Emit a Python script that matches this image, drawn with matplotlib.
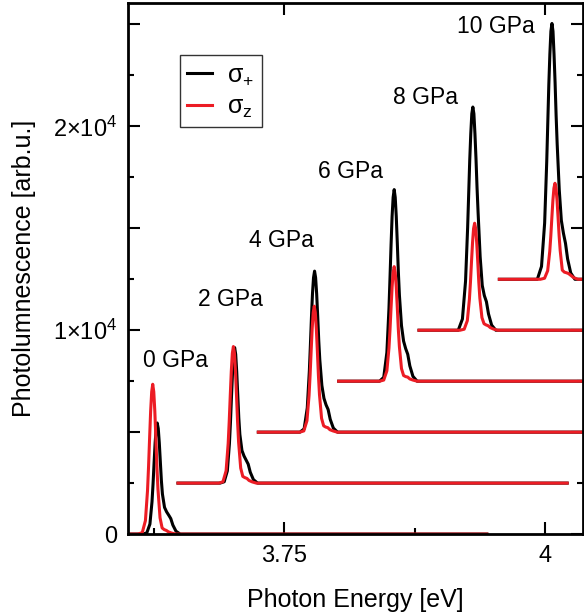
import matplotlib
matplotlib.use("Agg")
import matplotlib.pyplot as plt
from matplotlib.ticker import MultipleLocator, FuncFormatter

plt.rcParams['font.family'] = ['Liberation Sans', 'DejaVu Sans']
plt.rcParams['mathtext.fontset'] = 'custom'
plt.rcParams['mathtext.rm'] = 'Liberation Sans'
plt.rcParams['mathtext.it'] = 'Liberation Sans'
plt.rcParams['mathtext.bf'] = 'Liberation Sans:bold'

# pressures, vertical shift of each spectrum and the energy range it covers
labels = ['0 GPa', '2 GPa', '4 GPa', '6 GPa', '8 GPa', '10 GPa']
shift = [0, 2500, 5000, 7500, 10000, 12500]
e_start = [3.571, 3.648, 3.725, 3.802, 3.879, 3.956]
e_end = [3.944, 4.021, 4.098, 4.175, 4.252, 4.329]

# peak positions [eV]
peak_plus = [3.6281, 3.7023, 3.7789, 3.8552, 3.9306, 4.0064]
peak_z = [3.6238, 3.7011, 3.7786, 3.8552, 3.9323, 4.0093]

# sample points around each peak, offset from the peak in meV
off_mev = [-14, -10, -7, -5, -4, -3, -2, -1, 0, 1, 2, 3, 4, 5, 7, 9, 11, 13, 15, 18, 22]

# sigma+ intensities at those points (above the shifted baseline)
pl_plus = [
    [0, 55, 490, 1580, 2450, 3490, 4470, 5180, 5450, 5180, 4470, 3540, 2620, 1960, 1310, 1090, 930, 760, 440, 140, 0],
    [0, 67, 600, 1930, 2990, 4260, 5450, 6320, 6650, 6320, 5450, 4320, 3190, 2390, 1600, 1330, 1130, 930, 530, 170, 0],
    [0, 160, 1190, 3000, 4270, 5610, 6790, 7580, 7900, 7580, 6790, 5690, 4500, 3560, 2290, 1660, 1340, 1110, 630, 200, 0],
    [0, 190, 1410, 3570, 5080, 6670, 8080, 9020, 9400, 9020, 8080, 6770, 5360, 4230, 2730, 1970, 1600, 1320, 750, 235, 0],
    [0, 550, 2410, 5040, 6680, 8320, 9640, 10620, 10950, 10620, 9640, 8430, 7010, 5800, 3600, 2200, 1700, 1400, 800, 250, 0],
    [0, 630, 2760, 5770, 7660, 9540, 11040, 12170, 12550, 12170, 11040, 9660, 8030, 6650, 4390, 2890, 2260, 1760, 1000, 310, 0],
]

# sigma_z intensities
pl_z = [
    [0, 75, 660, 2130, 3310, 4700, 6030, 6980, 7350, 6980, 6030, 4700, 3310, 2210, 800, 300, 220, 180, 110, 50, 0],
    [0, 65, 600, 1940, 3020, 4290, 5490, 6370, 6700, 6370, 5490, 4290, 3020, 2010, 740, 330, 270, 230, 130, 60, 0],
    [0, 60, 560, 1790, 2780, 3960, 5070, 5870, 6180, 5870, 5070, 3960, 2780, 1850, 680, 310, 250, 220, 120, 60, 0],
    [0, 55, 510, 1630, 2530, 3600, 4610, 5340, 5620, 5340, 4610, 3600, 2530, 1690, 620, 280, 225, 200, 110, 55, 0],
    [0, 50, 470, 1520, 2360, 3360, 4300, 4990, 5250, 4990, 4300, 3360, 2360, 1580, 620, 320, 260, 220, 130, 60, 0],
    [0, 50, 420, 1370, 2120, 3010, 3860, 4470, 4710, 4470, 3860, 3010, 2120, 1410, 450, 350, 320, 280, 200, 80, 0],
]

# label positions (eV, counts)
lab_x = [3.646, 3.698, 3.7473, 3.813, 3.8855, 3.953]
lab_y = [8514, 11500, 14395, 17785, 21417, 24882]

RED = '#ec1c24'

fig = plt.figure(figsize=(5.84, 6.16), dpi=100)
ax = fig.add_axes([0.219, 0.133, 0.779, 0.862])


def spectrum(i, peak, vals):
    x = [e_start[i]] + [peak[i] + o / 1000 for o in off_mev] + [e_end[i]]
    y = [shift[i]] + [shift[i] + v for v in vals[i]] + [shift[i]]
    return x, y


for i in range(len(labels)):
    x, y = spectrum(i, peak_plus, pl_plus)
    ax.plot(x, y, color='black', lw=2.2, label=r'σ$_{+}$' if i == 0 else None)
    x, y = spectrum(i, peak_z, pl_z)
    ax.plot(x, y, color=RED, lw=2.2, label=r'σ$_{z}$' if i == 0 else None)
    ax.text(lab_x[i], lab_y[i], labels[i], fontsize=16.5, ha='center', va='center')

ax.set_xlim(3.60, 4.036)
ax.set_ylim(0, 26050)

ax.xaxis.set_major_locator(MultipleLocator(0.25))
ax.xaxis.set_minor_locator(MultipleLocator(0.125))
ax.xaxis.set_major_formatter(FuncFormatter(lambda v, p: '%g' % v))
ax.yaxis.set_major_locator(MultipleLocator(5000))
ax.yaxis.set_minor_locator(MultipleLocator(2500))
ylab = {0: '0', 10000: '1×10$^{4}$', 20000: '2×10$^{4}$'}
ax.yaxis.set_major_formatter(FuncFormatter(lambda v, p: ylab.get(int(round(v)), '')))

ax.tick_params(which='both', direction='in', top=True, right=True, width=1.5, labelsize=17)
ax.tick_params(which='major', length=8.5, pad=8)
ax.tick_params(which='minor', length=4.3, top=False)
for s in ax.spines.values():
    s.set_linewidth(2)

ax.set_xlabel('Photon Energy [eV]', fontsize=18, labelpad=15)
ax.set_ylabel('Photolumnescence [arb.u.]', fontsize=18, labelpad=12)

leg = ax.legend(loc='upper left', bbox_to_anchor=(0.114, 0.902), borderaxespad=0,
                fontsize=18, frameon=True, fancybox=False, edgecolor='black',
                handlelength=1.0, handletextpad=0.6, labelspacing=0.3, borderpad=0.3)
leg.get_frame().set_linewidth(1)

fig.savefig('out.png', dpi=100)
